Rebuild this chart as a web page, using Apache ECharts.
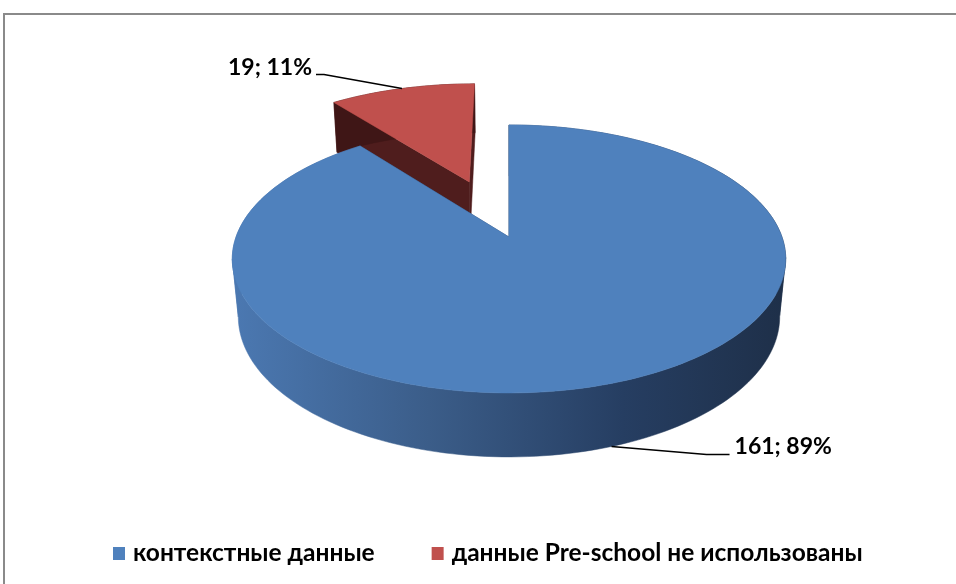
<!DOCTYPE html>
<html>
<head>
<meta charset="utf-8">
<script src="https://cdn.jsdelivr.net/npm/echarts@6/dist/echarts.min.js"></script>
<style>
html,body{margin:0;padding:0;background:#fff;}
#chart{width:956px;height:584px;}
</style>
</head>
<body>
<div id="chart"></div>
<script>
// ---- data ----
const categories = ['контекстные данные', 'данные Pre-school не использованы'];
const values = [161, 19];

// ---- styles ----
const topColors = ['#4f81bd', '#c0504d'];
const sideColors = ['#2c4870', '#4f1d1d'];
const explode = [0, 0.48];
const FONT = 'Lato, "Open Sans", sans-serif';

// 3D view (perspective) parameters
const V = {cx: 509, cy: 237, k: 273, sinE: 0.4777, cosE: 0.878, D: 5.36, H: 0.243};
function proj(X, Y, Z) {
  const v = Y * V.cosE - Z * V.sinE;
  const d = Z * V.cosE + Y * V.sinE;
  const sc = V.D / (V.D - d);
  return [V.cx + V.k * X * sc, V.cy - V.k * v * sc];
}

const blueWall = {
  type: 'linear', x: 235, y: 0, x2: 789, y2: 0, global: true,
  colorStops: [
    {offset: 0, color: '#4b78b1'},
    {offset: 0.35, color: '#3b5d89'},
    {offset: 0.7, color: '#263e62'},
    {offset: 1, color: '#1e2f48'}
  ]
};
const wallFills = [blueWall, '#3f1616'];

const labelCfg = [
  {anchor: 'bottom', elbow: [95, 8], end: [118, 8], align: 'left', dx: 5, dy: -8},
  {anchor: 'top', elbow: [-78, -14], end: [-86, -14], align: 'right', dx: -4, dy: -7}
];

function makeRender(i) {
  return function (params, api) {
    const v = api.value(0);
    const total = values.reduce((a, b) => a + b, 0);
    let before = 0;
    for (let j = 0; j < i; j++) before += values[j];
    const TAU = Math.PI * 2;
    const a0 = before / total * TAU;
    const a1 = (before + v) / total * TAU;
    const mid = (a0 + a1) / 2;
    const e = explode[i];
    const ox = Math.sin(mid) * e, oz = -Math.cos(mid) * e;
    const H = V.H;
    const rim = (a, y) => proj(ox + Math.sin(a), y, oz - Math.cos(a));
    const ctr = (y) => proj(ox, y, oz);
    const N = Math.max(8, Math.ceil((a1 - a0) / TAU * 240));
    const top = [], bot = [];
    for (let k = 0; k <= N; k++) {
      const a = a0 + (a1 - a0) * k / N;
      top.push(rim(a, 0));
      bot.push(rim(a, -H));
    }
    const children = [];
    // radial cut faces
    [a0, a1].forEach(a => {
      children.push({
        type: 'polygon',
        shape: {points: [ctr(0), rim(a, 0), rim(a, -H), ctr(-H)]},
        style: {fill: sideColors[i], stroke: sideColors[i], lineWidth: 0.5}
      });
    });
    // outer wall, split into x-monotonic runs
    let start = 0;
    const runs = [];
    let dir = 0;
    for (let k = 1; k <= N; k++) {
      const d = Math.sign(top[k][0] - top[k - 1][0]);
      if (dir !== 0 && d !== 0 && d !== dir) {
        runs.push([start, k - 1]);
        start = k - 1;
      }
      if (d !== 0) dir = d;
    }
    runs.push([start, N]);
    runs.forEach(([s, t]) => {
      const pts = top.slice(s, t + 1).concat(bot.slice(s, t + 1).reverse());
      children.push({
        type: 'polygon',
        shape: {points: pts},
        style: {fill: wallFills[i], stroke: wallFills[i], lineWidth: 0.5}
      });
    });
    // top face
    children.push({
      type: 'polygon',
      shape: {points: [ctr(0)].concat(top)},
      style: {fill: topColors[i], stroke: topColors[i], lineWidth: 0.5}
    });
    // label + leader
    const lc = labelCfg[i];
    const anc = rim(mid, lc.anchor === 'top' ? 0 : -H);
    const p1 = [anc[0] + lc.elbow[0], anc[1] + lc.elbow[1]];
    const p2 = [anc[0] + lc.end[0], anc[1] + lc.end[1]];
    children.push({
      type: 'polyline',
      shape: {points: [anc, p1, p2]},
      style: {stroke: '#000', lineWidth: 1.5, fill: null}
    });
    const pct = Math.round(v / total * 100);
    children.push({
      type: 'text',
      x: p2[0] + lc.dx, y: p2[1] + lc.dy,
      style: {
        text: v + '; ' + pct + '%',
        fill: '#000',
        font: 'bold 23px ' + FONT,
        align: lc.align,
        verticalAlign: 'middle'
      }
    });
    return {type: 'group', children: children};
  };
}

const chart = echarts.init(document.getElementById('chart'), null, {renderer: 'canvas'});
const series = categories.map((name, i) => ({
  type: 'custom',
  name: name,
  coordinateSystem: 'none',
  z: i === 0 ? 3 : 2,
  itemStyle: {color: topColors[i]},
  data: [values[i]],
  renderItem: makeRender(i),
  silent: true
}));

chart.setOption({
  animation: false,
  backgroundColor: '#fff',
  graphic: [{
    type: 'rect',
    shape: {x: 4, y: 14, width: 2000, height: 2000},
    style: {fill: 'none', stroke: '#8a8a8a', lineWidth: 2},
    silent: true
  }],
  legend: {
    data: categories.map((c, i) => ({name: c, itemStyle: {color: topColors[i]}})),
    left: 108,
    top: 536,
    icon: 'rect',
    itemWidth: 12,
    itemHeight: 13,
    itemGap: 57,
    textStyle: {fontFamily: FONT, fontWeight: 'bold', fontSize: 24.5, color: '#000', padding: [0, 0, 0, 3]},
    selectedMode: false
  },
  series: series
});
</script>
</body>
</html>
